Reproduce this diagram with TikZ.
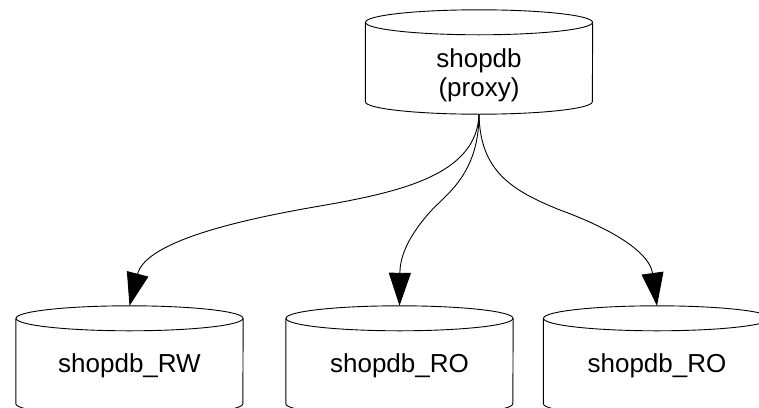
\documentclass[tikz,border=0pt]{standalone}
\usepackage{fontspec}
\setmainfont{Liberation Sans}
\usetikzlibrary{arrows.meta,calc}
\tikzset{
  dbnode/.style={draw=none, rectangle, inner sep=0pt, minimum width=227pt},
  lbl/.style={font=\fontsize{26}{29}\selectfont, align=center, inner sep=0pt},
  link/.style={line width=0.9pt, -{Triangle[length=33pt,width=22pt]}},
  outline/.style={line width=0.9pt},
}
\newcommand{\drawcyl}[1]{%
  \draw[outline] ($(#1.north)+(0,-12.5)$) ellipse [x radius=113.5, y radius=12.5];
  \draw[outline] ($(#1.north west)+(0,-12.5)$) -- ($(#1.south west)+(0,12.5)$)
    arc[start angle=180, end angle=360, x radius=113.5, y radius=12.5]
    -- ($(#1.north east)+(0,-12.5)$);
}
\begin{document}
\begin{tikzpicture}[x=1pt,y=1pt]
\useasboundingbox (0,0) rectangle (759,-407);
\node[dbnode, minimum height=104pt] (proxy) at (479,-62) {};
\node[dbnode, minimum height=110pt] (rw) at (129.5,-361) {};
\node[dbnode, minimum height=110pt] (roa) at (399.5,-361) {};
\node[dbnode, minimum height=110pt] (rob) at (657,-361) {};
\drawcyl{proxy}
\drawcyl{rw}
\drawcyl{roa}
\drawcyl{rob}
\node[lbl] (proxytext) at (479,-75) {shopdb\\(proxy)};
\node[lbl, anchor=base] (rwtext) at (129.5,-372) {shopdb\_RW};
\node[lbl, anchor=base] (roatext) at (399.5,-372) {shopdb\_RO};
\node[lbl, anchor=base] (robtext) at (657,-372) {shopdb\_RO};
\draw[link] (proxy.south) .. controls (477,-175) and (400,-192) .. (320,-206)
  .. controls (220,-223) and (145,-245) .. (rw.north);
\draw[link] (proxy.south) .. controls (479,-175) and (445,-195) .. (430,-212)
  .. controls (405,-240) and (400,-260) .. (roa.north);
\draw[link] (proxy.south) .. controls (480,-170) and (510,-190) .. (560,-210)
  .. controls (620,-232) and (650,-255) .. (rob.north);
\end{tikzpicture}
\end{document}
